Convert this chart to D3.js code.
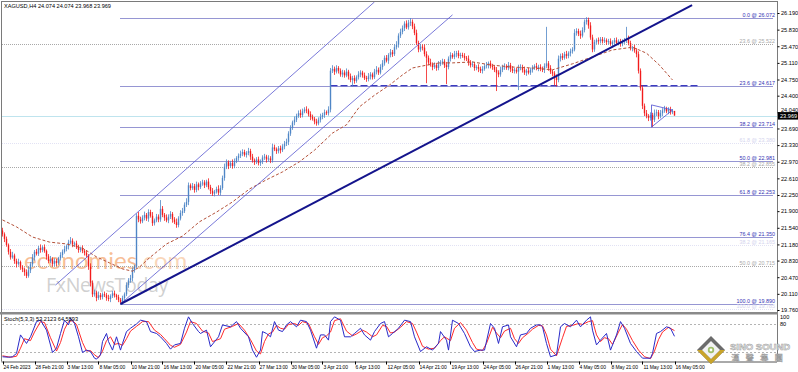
<!DOCTYPE html>
<meta charset="utf-8">
<style>
body { margin: 0; background: #fff; }
svg { display: block; font-family: "Liberation Sans", Arial, sans-serif; }
.ax text { font-size: 5.6px; fill: #000; }
.dt text { font-size: 5px; letter-spacing: -0.1px; fill: #000; }
.fib text { font-size: 5.4px; }
</style>
<svg width="798" height="372"></svg>
<script src="https://d3js.org/d3.v7.min.js"></script>
<script>
// XAGUSD H4, 24 Feb - 16 May 2023, one value per 4h bar
var firstOpen = 21.48;
var closes = [
 21.40,21.30,21.17,21.02,20.90,20.94,20.82,20.76,20.80,20.68,
 20.64,20.58,20.50,20.62,20.75,20.90,21.02,20.98,21.10,21.06,
 21.12,21.04,20.92,20.82,20.86,20.76,20.82,20.78,20.88,20.95,
 21.02,21.08,21.14,21.22,21.26,21.18,21.20,21.12,21.06,21.10,
 21.04,21.00,20.94,20.70,20.35,20.10,20.14,20.02,20.08,20.04,
 20.10,20.08,20.02,20.00,20.06,20.12,20.08,20.04,19.98,19.93,
 20.02,20.10,20.30,20.40,20.45,20.62,20.70,21.80,21.72,21.68,
 21.76,21.82,21.74,21.88,21.80,21.64,21.70,21.78,21.72,21.95,
 21.82,21.76,21.70,21.78,21.84,21.72,21.66,21.60,21.74,21.86,
 21.90,22.04,22.10,22.46,22.40,22.44,22.36,22.48,22.42,22.50,
 22.52,22.46,22.54,22.42,22.34,22.28,22.32,22.38,22.30,22.40,
 22.62,22.86,22.96,22.88,22.94,22.88,22.98,23.05,23.10,23.14,
 23.18,23.12,23.16,23.20,23.08,23.00,22.96,23.02,22.94,22.98,
 23.06,23.08,23.02,23.04,23.00,23.28,23.24,23.20,23.26,23.22,
 23.30,23.36,23.40,23.58,23.70,23.82,23.88,23.96,24.02,23.98,
 24.06,24.10,24.08,24.00,23.94,23.90,23.84,23.80,23.88,23.94,
 23.98,24.04,24.02,24.10,24.94,24.98,24.92,25.00,24.94,24.86,
 24.90,24.84,24.92,24.82,24.74,24.78,24.72,24.80,24.86,24.90,
 24.84,24.78,24.76,24.82,24.86,24.80,24.92,24.96,24.90,25.02,
 25.10,25.22,25.16,25.28,25.34,25.30,25.45,25.50,25.70,25.78,
 25.86,25.96,25.88,25.98,26.00,25.90,25.76,25.54,25.40,25.46,
 25.44,25.30,25.22,25.12,25.08,25.02,25.06,25.00,25.08,25.12,
 25.14,25.06,25.02,25.20,25.28,25.24,25.30,25.32,25.26,25.28,
 25.26,25.22,25.20,25.12,25.06,25.08,25.00,25.02,24.98,24.94,
 24.98,25.04,25.06,25.10,25.04,25.02,24.96,24.90,24.86,24.96,
 25.02,25.04,25.00,25.06,24.98,24.94,24.96,24.92,25.00,25.02,
 24.96,24.90,24.94,24.90,24.96,25.00,25.04,25.00,25.02,24.98,
 24.96,25.04,25.10,25.00,24.92,24.88,24.80,24.74,25.20,25.26,
 25.22,25.30,25.26,25.32,25.36,25.40,25.76,25.80,25.74,25.70,
 25.82,26.00,26.04,25.92,25.66,25.40,25.56,25.60,25.58,25.62,
 25.58,25.60,25.56,25.58,25.52,25.56,25.60,25.54,25.58,25.52,
 25.56,25.60,25.64,25.54,25.42,25.44,25.38,25.30,24.94,24.56,
 24.18,24.02,23.96,23.92,23.98,23.88,24.02,24.04,23.96,24.02,
 24.08,24.12,24.06,24.10,24.04,24.07,23.969];
// wick length above the body and below the body
var wickUp = [
 .06,.04,.05,.03,.06,.08,.04,.05,.07,.03, .05,.04,.06,.08,.05,.07,.04,.06,.05,.08,
 .04,.06,.03,.05,.07,.04,.06,.05,.03,.06, .05,.07,.04,.06,.08,.05,.04,.06,.05,.03,
 .06,.04,.05,.03,.07,.05,.06,.04,.08,.05, .04,.06,.05,.07,.04,.05,.06,.03,.05,.04,
 .05,.04,.06,.05,.07,.06,.04,.05,.08,.06, .05,.07,.04,.06,.05,.08,.04,.06,.05,.19,
 .06,.04,.07,.05,.06,.04,.05,.08,.05,.06, .07,.05,.08,.06,.04,.07,.05,.06,.04,.05,
 .06,.05,.04,.07,.05,.06,.04,.05,.08,.06, .05,.07,.06,.04,.05,.08,.06,.04,.05,.07,
 .06,.05,.04,.07,.05,.06,.04,.05,.06,.04, .05,.06,.04,.07,.05,.08,.06,.04,.05,.06,
 .05,.06,.07,.05,.06,.04,.07,.05,.06,.08, .06,.05,.07,.04,.06,.05,.04,.06,.05,.07,
 .05,.06,.04,.07,.06,.08,.05,.06,.04,.05, .06,.05,.07,.04,.06,.05,.06,.04,.07,.05,
 .04,.06,.05,.07,.05,.04,.06,.08,.05,.06, .07,.05,.06,.04,.07,.05,.06,.08,.05,.07,
 .06,.05,.07,.06,.08,.05,.06,.07,.05,.06, .05,.07,.06,.05,.08,.04,.06,.05,.07,.05,
 .06,.05,.07,.05,.06,.04,.07,.05,.06,.05, .05,.06,.04,.07,.05,.06,.05,.04,.06,.05,
 .06,.05,.07,.04,.06,.05,.04,.06,.05,.07, .05,.06,.04,.07,.05,.06,.04,.05,.07,.06,
 .05,.07,.04,.06,.05,.06,.04,.07,.05,.06, .05,.06,.79,.05,.06,.04,.05,.06,.07,.05,
 .06,.05,.07,.04,.06,.05,.08,.06,.05,.07, .06,.05,.06,.05,.07,.06,.05,.04,.06,.05,
 .05,.06,.04,.05,.06,.04,.05,.06,.04,.05, .06,.05,.25,.06,.05,.04,.06,.05,.06,.05,
 .06,.05,.07,.04,.06,.05,.08,.06,.05,.07, .05,.06,.04,.05,.06,.04,0];
var wickDn = [
 .05,.07,.04,.06,.05,.03,.06,.08,.04,.05, .06,.08,.05,.04,.06,.05,.07,.04,.05,.06,
 .05,.04,.07,.05,.04,.06,.05,.07,.04,.05, .06,.04,.05,.07,.04,.06,.05,.04,.06,.05,
 .05,.06,.04,.07,.08,.06,.05,.07,.04,.06, .05,.04,.06,.05,.07,.04,.05,.06,.05,.04,
 .06,.05,.04,.06,.05,.07,.05,.04,.06,.05, .04,.06,.05,.07,.04,.06,.05,.04,.06,.05,
 .05,.07,.04,.06,.05,.07,.04,.06,.05,.04, .06,.04,.05,.07,.05,.04,.06,.05,.07,.04,
 .05,.06,.04,.05,.07,.05,.06,.04,.05,.06, .04,.06,.05,.07,.04,.06,.05,.04,.06,.05,
 .05,.04,.06,.05,.07,.05,.06,.04,.05,.06, .06,.05,.07,.04,.06,.05,.04,.06,.05,.07,
 .04,.06,.05,.07,.05,.04,.06,.05,.04,.06, .05,.04,.06,.05,.07,.04,.06,.05,.04,.06,
 .05,.06,.04,.05,.06,.05,.07,.04,.06,.05, .06,.05,.04,.07,.05,.14,.06,.04,.05,.06,
 .05,.04,.06,.05,.07,.05,.04,.06,.05,.04, .06,.05,.04,.07,.05,.06,.04,.05,.06,.05,
 .05,.06,.04,.05,.07,.06,.05,.04,.06,.05, .06,.05,.55,.06,.05,.07,.04,.06,.05,.04,
 .05,.06,.37,.05,.06,.04,.05,.07,.05,.06, .04,.06,.05,.07,.05,.04,.06,.05,.07,.05,
 .06,.04,.05,.07,.05,.06,.05,.40,.06,.05, .05,.06,.04,.05,.07,.05,.06,.04,.40,.05,
 .06,.05,.07,.04,.05,.06,.04,.05,.07,.05, .05,.07,.04,.06,.05,.06,.18,.14,.05,.06,
 .05,.04,.06,.05,.07,.05,.04,.06,.05,.07, .04,.05,.06,.07,.05,.06,.05,.04,.06,.05,
 .05,.04,.06,.05,.04,.06,.05,.04,.05,.06, .05,.04,.06,.05,.04,.06,.05,.07,.06,.05,
 .07,.06,.05,.07,.06,.16,.05,.06,.07,.05, .06,.05,.04,.06,.05,.04,0];

// moving average, [bar, price]
var maLine = [[0,21.71],[7,21.56],[15,21.34],[23.5,21.23],[32,21.19],[40,21.10],[47,20.91],
 [53.5,20.78],[60,20.65],[65,20.60],[68.5,20.69],[73.5,20.89],[82,21.19],[90,21.36],[98.5,21.67],
 [107,21.88],[115,22.10],[123.5,22.38],[132,22.58],[140,22.75],[148.5,22.97],[156,23.22],
 [165,23.59],[172,23.77],[178.5,24.16],[186,24.41],[193.5,24.63],[200,24.85],[205,25.00],
 [212,25.06],[218.5,25.11],[225,25.11],[235,25.13],[245,25.06],[255,25.02],[265,25.00],
 [275,24.96],[285,25.09],[295,25.24],[305,25.39],[315,25.45],[322,25.32],[328.5,25.06],[335,24.74]];

// Stoch(5,3,3): main (blue) and signal (red), [bar, value]
var stochK = [[0,10],[3,9],[5,10],[7,17],[9,56],[12,38],[14,52],[17,84],[19,87],[22,66],[25,19],[27,28],
 [29,59],[31,87],[33,77],[34,91],[36,80],[38,52],[40,19],[42,24],[44,21],[46,7],[47,5],[49,14],[50,42],
 [52,59],[53,42],[55,24],[57,52],[59,24],[60,38],[62,63],[64,70],[67,79],[69,87],[72,84],[74,63],[77,59],
 [79,52],[82,38],[84,26],[86,35],[89,38],[91,70],[93,94],[95,80],[98,63],[99,59],[102,66],[104,31],
 [108,52],[110,77],[114,73],[117,84],[119,70],[123,52],[125,24],[127,9],[129,24],[130,63],[132,59],
 [134,52],[136,84],[138,66],[140,63],[142,77],[144,84],[147,73],[149,87],[152,84],[154,66],[157,28],
 [159,56],[161,56],[163,45],[164,84],[166,94],[169,87],[171,52],[174,52],[176,59],[179,70],[181,56],
 [184,45],[186,63],[189,80],[191,84],[193,52],[195,59],[198,70],[201,87],[204,84],[206,52],[209,21],
 [212,31],[215,24],[218,38],[219,63],[222,45],[223,24],[225,87],[228,80],[231,59],[234,31],[236,21],
 [239,24],[241,24],[244,80],[246,70],[248,38],[250,73],[253,77],[254,52],[257,31],[259,56],[262,59],
 [264,70],[267,77],[269,77],[270,73],[272,38],[274,10],[277,14],[279,73],[281,80],[284,73],[287,87],
 [289,73],[292,87],[294,94],[295,66],[297,35],[299,45],[302,59],[304,24],[307,56],[309,84],[311,70],
 [314,38],[317,21],[320,7],[324,7],[325,17],[327,59],[329,63],[332,73],[334,70],[336,53]];
var stochD = [[0,12],[4,9],[7,11],[9,28],[11,48],[14,44],[16,62],[19,84],[21,82],[24,50],[27,22],[29,40],
 [31,68],[33,84],[35,86],[37,78],[40,40],[42,22],[44,23],[46,14],[48,8],[50,22],[52,44],[54,52],[56,36],
 [58,38],[60,34],[62,48],[64,64],[67,74],[70,84],[73,84],[76,66],[79,57],[81,48],[84,34],[86,30],[89,36],
 [92,62],[94,84],[97,80],[100,64],[103,60],[105,42],[109,48],[111,68],[115,74],[118,80],[121,66],
 [124,46],[127,22],[129,16],[131,42],[133,58],[135,62],[137,76],[139,70],[141,68],[143,78],[146,80],
 [148,76],[150,84],[153,80],[156,52],[158,36],[160,50],[162,54],[164,62],[166,86],[169,90],[172,64],
 [175,54],[177,58],[180,66],[182,62],[185,52],[187,56],[190,76],[192,74],[194,60],[196,62],[199,72],
 [202,84],[205,80],[207,62],[210,32],[213,26],[216,28],[219,44],[221,52],[224,44],[226,70],[229,82],
 [232,66],[235,40],[237,26],[240,23],[242,38],[245,72],[247,60],[249,50],[251,64],[254,70],[256,48],
 [258,38],[260,50],[263,60],[265,68],[268,76],[270,75],[272,56],[274,26],[277,12],[280,50],[282,74],
 [285,76],[288,80],[290,78],[293,84],[295,86],[297,56],[299,42],[301,50],[303,48],[305,36],[308,62],
 [310,78],[312,68],[315,44],[318,24],[321,10],[324,6],[326,22],[328,46],[330,62],[333,72],[336,65]];

// fibonacci retracement from the 8 Mar low to the 12 Apr high
var fibRatios = ["0.0","23.6","38.2","50.0","61.8","76.4","100.0"];
var fibPrices = [26.072,24.617,23.714,22.981,22.253,21.350,19.890];
// older, lighter fib drawings
var greyFibLabels = ["23.6 @ 25.522","38.2 @ 22.855","50.0 @ 20.715"];
var greyFibPrices = [25.522,22.855,20.715];
var paleFibLabels = ["61.8 @ 23.380","38.2 @ 21.165","100.0 @ 19.785"];
var paleFibPrices = [23.38,21.165,19.785];

// drawn lines, [bar, price] end points
var trendLine = [[59,19.89],[344.8,26.36]];
var channelUp = [[26.5,20.30],[186,26.43]];
var channelDn = [[59,19.89],[225,26.15]];
var supportLine = [[164,24.617],[347.5,24.617]];
var pennant = [[324.5,24.20],[335,24.09],[324.5,23.72],[324.5,24.20]];

var priceTicks = [26.190,25.830,25.470,25.110,24.750,24.400,24.040,23.690,23.330,22.970,
 22.610,22.250,21.900,21.540,21.180,20.830,20.470,20.110,19.760];
var dateBars = [0,16,32,48,64,80,96,112,128,144,160,176,192,208,224,240,256,272,288,304,320,336];
var dateLabels = ["24 Feb 2023","28 Feb 21:00","3 Mar 13:00","8 Mar 05:00","10 Mar 21:00","16 Mar 13:00",
 "20 Mar 05:00","22 Mar 21:00","27 Mar 13:00","30 Mar 05:00","3 Apr 21:00","6 Apr 13:00","12 Apr 05:00",
 "14 Apr 21:00","19 Apr 13:00","24 Apr 05:00","26 Apr 21:00","1 May 13:00","4 May 05:00","8 May 21:00",
 "11 May 13:00","16 May 05:00"];

var svg = d3.select("svg");
var right = 777, mainTop = 1, mainBot = 312, subTop = 314, subBot = 361.5;

var x = d3.scaleLinear().domain([0, 336]).range([2.5, 674.5]);
var y = d3.scaleLinear().domain([19.76, 26.19]).range([310, 13]);
var ys = d3.scaleLinear().domain([0, 100]).range([361.5, 314]);

svg.append("rect").attr("width", 798).attr("height", 372).attr("fill", "#fff");

var defs = svg.append("defs");
defs.append("clipPath").attr("id", "mainClip").append("rect")
    .attr("x", 2).attr("y", mainTop).attr("width", right - 2).attr("height", mainBot - mainTop);
defs.append("clipPath").attr("id", "subClip").append("rect")
    .attr("x", 2).attr("y", subTop).attr("width", right - 2).attr("height", subBot - subTop);

// watermarks
var wm = svg.append("g");
var eco = wm.append("text").attr("x", 24).attr("y", 269).attr("font-size", 24).attr("font-family", "Lato, sans-serif");
eco.append("tspan").attr("fill", "#f6b383").attr("fill-opacity", 0.85).text("economies");
eco.append("tspan").attr("fill", "#f8cfae").attr("fill-opacity", 0.85).text(".com");
wm.append("text").attr("x", 46).attr("y", 292).attr("font-size", 19.5).attr("font-family", "Open Sans, sans-serif")
    .attr("fill", "#c4c4c4").attr("fill-opacity", 0.8).attr("letter-spacing", -0.3).text("FxNewsToday");

var main = svg.append("g").attr("clip-path", "url(#mainClip)");
var pline = d3.line().x(function(d) { return x(d[0]); }).y(function(d) { return y(d[1]); });

// light fib levels
main.selectAll(".pale").data(paleFibPrices).enter().append("line")
    .attr("x1", 2).attr("x2", 773).attr("y1", function(d) { return Math.round(y(d)) + 0.5; })
    .attr("y2", function(d) { return Math.round(y(d)) + 0.5; })
    .attr("stroke", "#e2e2f4").attr("stroke-dasharray", "1,1");
main.selectAll(".grey").data(greyFibPrices).enter().append("line")
    .attr("x1", 2).attr("x2", 773).attr("y1", function(d) { return Math.round(y(d)) + 0.5; })
    .attr("y2", function(d) { return Math.round(y(d)) + 0.5; })
    .attr("stroke", "#a8a8a8").attr("stroke-dasharray", "1,1");

// bid line
main.append("line").attr("x1", 2).attr("x2", right)
    .attr("y1", Math.round(y(closes[closes.length - 1])) + 0.5).attr("y2", Math.round(y(closes[closes.length - 1])) + 0.5)
    .attr("stroke", "#bfe4ee");

// main fib levels
main.selectAll(".fibl").data(fibPrices).enter().append("line")
    .attr("x1", x(59)).attr("x2", 773).attr("y1", function(d) { return Math.round(y(d)) + 0.5; })
    .attr("y2", function(d) { return Math.round(y(d)) + 0.5; })
    .attr("stroke", "#2c2ca6").attr("stroke-dasharray", "1,1");

main.append("path").datum(supportLine).attr("d", pline).attr("fill", "none")
    .attr("stroke", "#3b3bbf").attr("stroke-width", 1.2).attr("stroke-dasharray", "7,3");

// candles
var bars = closes.map(function(c, i) {
    var o = i ? closes[i - 1] : firstOpen;
    return { i: i, o: o, c: c, h: Math.max(o, c) + wickUp[i], l: Math.min(o, c) - wickDn[i] };
});
var candle = main.selectAll(".candle").data(bars).enter().append("g");
candle.append("line")
    .attr("x1", function(d) { return x(d.i); }).attr("x2", function(d) { return x(d.i); })
    .attr("y1", function(d) { return y(d.h); }).attr("y2", function(d) { return y(d.l); })
    .attr("stroke", function(d) { return d.c >= d.o ? "#4f86c6" : "#f21c1c"; }).attr("stroke-width", 0.8);
candle.append("rect")
    .attr("x", function(d) { return x(d.i) - 0.7; }).attr("width", 1.4)
    .attr("y", function(d) { return y(Math.max(d.o, d.c)); })
    .attr("height", function(d) { return Math.max(0.6, Math.abs(y(d.o) - y(d.c))); })
    .attr("fill", function(d) { return d.c >= d.o ? "#4f86c6" : "#f21c1c"; });

// moving average
main.append("path").datum(maLine).attr("d", pline).attr("fill", "none")
    .attr("stroke", "#b4513a").attr("stroke-width", 1).attr("stroke-dasharray", "3,2");

// channel, trend line, pennant
main.append("path").datum(channelUp).attr("d", pline).attr("stroke", "#5757cf").attr("stroke-width", 0.8);
main.append("path").datum(channelDn).attr("d", pline).attr("stroke", "#5757cf").attr("stroke-width", 0.8);
main.append("path").datum(trendLine).attr("d", pline).attr("stroke", "#14148c").attr("stroke-width", 2);
main.append("path").datum(pennant).attr("d", pline).attr("fill", "none").attr("stroke", "#4c4cd0").attr("stroke-width", 0.8);

// fib labels
var fib = svg.append("g").attr("class", "fib").attr("text-anchor", "end");
fib.selectAll(".pl").data(paleFibPrices).enter().append("text")
    .attr("x", 775).attr("y", function(d) { return Math.round(y(d)) - 1; })
    .attr("fill", "#d4d4ee").text(function(d, i) { return paleFibLabels[i]; });
fib.selectAll(".gl").data(greyFibPrices).enter().append("text")
    .attr("x", 775).attr("y", function(d) { return Math.round(y(d)) - 1; })
    .attr("fill", "#a9a9a9").text(function(d, i) { return greyFibLabels[i]; });
fib.selectAll(".fl").data(fibPrices).enter().append("text")
    .attr("x", 775).attr("y", function(d) { return Math.round(y(d)) - 1; })
    .attr("fill", "#3434b4").text(function(d, i) { return fibRatios[i] + " @ " + d.toFixed(3); });

// stochastic panel
var sub = svg.append("g").attr("clip-path", "url(#subClip)");
[80, 20].forEach(function(v) {
    sub.append("line").attr("x1", 2).attr("x2", right).attr("y1", Math.round(ys(v)) + 0.5).attr("y2", Math.round(ys(v)) + 0.5)
        .attr("stroke", "#b4b4b4").attr("stroke-dasharray", "2,2");
});
var sline = d3.line().x(function(d) { return x(d[0]); }).y(function(d) { return ys(d[1]); });
sub.append("path").datum(stochD).attr("d", sline).attr("fill", "none").attr("stroke", "#ff2a2a").attr("stroke-width", 1);
sub.append("path").datum(stochK).attr("d", sline).attr("fill", "none").attr("stroke", "#2a2ac8").attr("stroke-width", 1);

// frames
var fr = svg.append("g").attr("stroke", "#7a7a7a").attr("fill", "none");
fr.append("line").attr("x1", 1.5).attr("x2", 1.5).attr("y1", mainTop).attr("y2", subBot);
fr.append("line").attr("x1", 1.5).attr("x2", right).attr("y1", mainTop + 0.5).attr("y2", mainTop + 0.5);
fr.append("line").attr("x1", right + 0.5).attr("x2", right + 0.5).attr("y1", mainTop).attr("y2", subBot + 0.5);
fr.append("line").attr("x1", 1.5).attr("x2", right).attr("y1", subBot + 0.5).attr("y2", subBot + 0.5).attr("stroke", "#555");
svg.append("rect").attr("x", 0).attr("y", mainBot).attr("width", right + 1).attr("height", 2.5).attr("fill", "#8a8a8a");

// price axis
var last = closes[closes.length - 1];
var pa = svg.append("g").attr("class", "ax").attr("transform", "translate(" + (right + 0.5) + ",0)")
    .call(d3.axisRight(y).tickValues(priceTicks).tickSize(2).tickPadding(1.5).tickFormat(d3.format(".3f")));
pa.select(".domain").remove();
pa.selectAll("line").attr("stroke", "#000");
// the bid box hides most of the nearest tick label, as in the terminal
pa.selectAll(".tick text").filter(function(d) { return Math.abs(y(d) - y(last)) < 6; }).attr("dy", "-0.1em");

// current price box
svg.append("rect").attr("x", right + 1).attr("y", y(last) - 3.5).attr("width", 20).attr("height", 7.5).attr("fill", "#000");
svg.append("text").attr("x", right + 3).attr("y", y(last) + 2.2).attr("font-size", 5.6).attr("fill", "#fff").text(last.toFixed(3));

// stoch axis labels
var sa = svg.append("g").attr("class", "ax");
sa.append("text").attr("x", right + 3).attr("y", ys(100) + 5).text("100");
sa.append("text").attr("x", right + 3).attr("y", ys(80) + 2.5).text("80");

// time axis
var ta = svg.append("g").attr("class", "dt");
ta.selectAll("line").data(dateBars).enter().append("line")
    .attr("x1", function(d) { return Math.round(x(d)) + 0.5; }).attr("x2", function(d) { return Math.round(x(d)) + 0.5; })
    .attr("y1", subBot).attr("y2", subBot + 3).attr("stroke", "#000");
ta.selectAll("text").data(dateBars).enter().append("text")
    .attr("x", function(d) { return x(d) + 1; }).attr("y", 369)
    .text(function(d, i) { return dateLabels[i]; });

// titles
svg.append("text").attr("x", 4).attr("y", 7.5).attr("font-size", 5.6).text("XAGUSD,H4  24.074 24.074 23.968 23.969");
svg.append("text").attr("x", 4).attr("y", 320.5).attr("font-size", 5.6).text("Stoch(5,3,3) 53.2123 64.5593");

// Sino Sound logo
var logo = svg.append("g");
logo.append("path").attr("d", "M711,336 L725,350 L711,364 L697,350 Z").attr("fill", "#6b6b6b");
logo.append("path").attr("d", "M697,350 L711,364 L725,350 L720,350 L711,359 L702,350 Z").attr("fill", "#c9a42a");
logo.append("path").attr("d", "M711,341 L720,350 L711,359 L702,350 Z").attr("fill", "#f2f2f2");
logo.append("circle").attr("cx", 711).attr("cy", 350).attr("r", 3.2).attr("fill", "#9fbf6a");
logo.append("circle").attr("cx", 711).attr("cy", 350).attr("r", 1.4).attr("fill", "#fff");
logo.append("text").attr("x", 730).attr("y", 349.5).attr("font-size", 9.5).attr("font-weight", "bold")
    .attr("fill", "#eeeeee").attr("stroke", "#9a9a9a").attr("stroke-width", 0.5).text("SINO SOUND");
logo.append("text").attr("x", 731).attr("y", 360.5).attr("font-size", 8.5).attr("font-family", "Noto Sans CJK TC")
    .attr("letter-spacing", 6).attr("fill", "#eeeeee").attr("stroke", "#9a9a9a").attr("stroke-width", 0.4).text("漢聲集團");
</script>
